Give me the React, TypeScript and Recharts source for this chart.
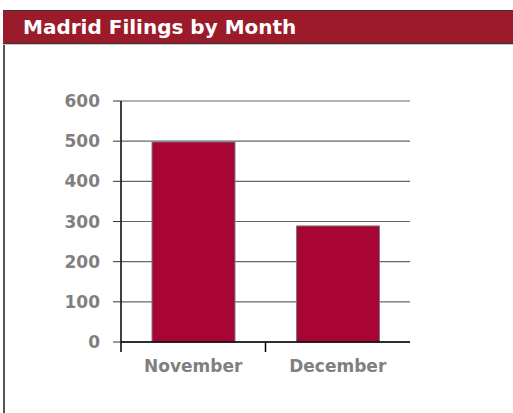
import { BarChart, Bar, XAxis, YAxis, CartesianGrid } from "recharts";

const months = ["November", "December"];
const filings = [498, 289];
const yTicks = [0, 100, 200, 300, 400, 500, 600];

const data = months.map((month, i) => ({ month, filings: filings[i] }));

const LABEL_FONT = "'DejaVu Sans', sans-serif";
const LABEL_GREY = "#808080";

function MonthTick(props: any) {
  const { x, y, payload, index, visibleTicksCount } = props;
  const half = payload?.offset ?? 72;
  const last = index === (visibleTicksCount ?? months.length) - 1;
  return (
    <g>
      {index === 0 && (
        <line x1={x - half} y1={y} x2={x - half} y2={y + 10} stroke="#000" strokeWidth={1.5} />
      )}
      {!last && (
        <line x1={x + half} y1={y} x2={x + half} y2={y + 10} stroke="#000" strokeWidth={1.5} />
      )}
      <text
        x={x}
        y={y + 18}
        dy="0.71em"
        textAnchor="middle"
        fill={LABEL_GREY}
        fontFamily={LABEL_FONT}
        fontWeight="bold"
        fontSize={17}
      >
        {payload.value}
      </text>
    </g>
  );
}

export default function App() {
  return (
    <div
      style={{
        position: "absolute",
        left: 0,
        top: 0,
        width: 513,
        height: 413,
        background: "#fff",
        overflow: "hidden",
      }}
    >
      <div
        style={{
          position: "absolute",
          left: 3,
          top: 10,
          width: 2,
          height: 403,
          background: "#555",
        }}
      />
      <div
        style={{
          position: "absolute",
          left: 3,
          top: 10,
          width: 520,
          height: 32,
          background: "#9b1b2a",
          borderTop: "1px solid #333",
          borderBottom: "1px solid #333",
          boxShadow: "0 1px 0 #c8c8c8",
          color: "#fff",
          fontFamily: LABEL_FONT,
          fontWeight: "bold",
          fontSize: 20,
          lineHeight: "32px",
          paddingLeft: 20,
          boxSizing: "content-box",
        }}
      >
        Madrid Filings by Month
      </div>
      <div style={{ position: "absolute", left: 0, top: 0 }}>
        <BarChart
          width={513}
          height={413}
          data={data}
          margin={{ top: 101, right: 103, bottom: 41, left: 0 }}
        >
          <CartesianGrid vertical={false} stroke="#666" strokeWidth={1.2} />
          <XAxis
            dataKey="month"
            height={30}
            axisLine={{ stroke: "#000", strokeWidth: 1.5 }}
            tickLine={false}
            tickSize={0}
            tickMargin={0}
            tick={<MonthTick />}
            interval={0}
          />
          <YAxis
            width={121}
            domain={[0, 600]}
            ticks={yTicks}
            interval={0}
            axisLine={{ stroke: "#000", strokeWidth: 1.5 }}
            tickLine={{ stroke: "#333" }}
            tickSize={8}
            tickMargin={13}
            tick={{
              fill: LABEL_GREY,
              fontFamily: LABEL_FONT,
              fontWeight: "bold",
              fontSize: 17,
            }}
          />
          <Bar
            dataKey="filings"
            fill="#a80534"
            stroke="#7a7a7a"
            strokeWidth={1}
            barSize={83}
            isAnimationActive={false}
          />
        </BarChart>
      </div>
    </div>
  );
}
